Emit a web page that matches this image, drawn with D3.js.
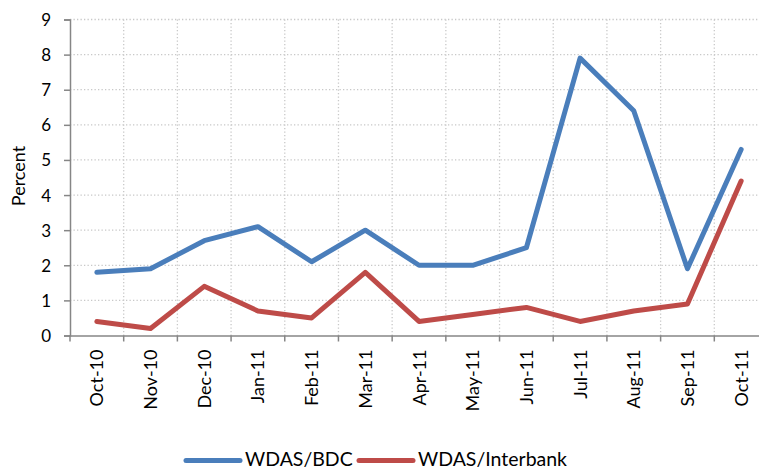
<!DOCTYPE html>
<html><head><meta charset="utf-8">
<script src="https://cdn.jsdelivr.net/npm/d3@7"></script>
<style>body{margin:0;background:#fff}svg{display:block}text{font-family:Lato,"Open Sans",sans-serif;fill:#000}</style>
</head><body>
<svg id="c" width="759" height="469"></svg>
<script>
const categories = ["Oct-10","Nov-10","Dec-10","Jan-11","Feb-11","Mar-11","Apr-11","May-11","Jun-11","Jul-11","Aug-11","Sep-11","Oct-11"];
const bdc = [1.8,1.9,2.7,3.1,2.1,3.0,2.0,2.0,2.5,7.9,6.4,1.9,5.3];
const interbank = [0.4,0.2,1.4,0.7,0.5,1.8,0.4,0.6,0.8,0.4,0.7,0.9,4.4];
const yTicks = [0,1,2,3,4,5,6,7,8,9];
const seriesNames = ["WDAS/BDC","WDAS/Interbank"];
const colors = ["#4a7ebb","#be4b48"];

const svg = d3.select("#c");
const x = d3.scaleBand().domain(categories).range([70, 768]);
const y = d3.scaleLinear().domain([0,9]).range([335.5, 19.5]);

// grid
const g = svg.append("g");
g.selectAll("line.h").data(yTicks.slice(1)).join("line")
  .attr("x1",70).attr("x2",768).attr("y1",d=>y(d)).attr("y2",d=>y(d))
  .attr("stroke","#c8c8c8").attr("stroke-width",1.3).attr("stroke-dasharray","1.3,2.2");
g.selectAll("line.v").data(categories.slice(1)).join("line")
  .attr("x1",d=>x(d)).attr("x2",d=>x(d)).attr("y1",y(9)).attr("y2",y(0))
  .attr("stroke","#c8c8c8").attr("stroke-width",1.3).attr("stroke-dasharray","1.3,2.2");

// axes
const yAxis = svg.append("g").attr("transform","translate(70,0)")
  .call(d3.axisLeft(y).tickValues(yTicks).tickSize(6).tickPadding(13).tickFormat(d3.format("d")));
const xAxis = svg.append("g").attr("transform",`translate(0,${y(0)})`)
  .call(d3.axisBottom(x).tickSize(0).tickPadding(0).tickFormat(""));
// x tick marks at band edges
svg.append("g").selectAll("line").data(categories).join("line")
  .attr("x1",d=>x(d)).attr("x2",d=>x(d)).attr("y1",y(0)).attr("y2",y(0)+6)
  .attr("stroke","#868686").attr("stroke-width",1.5);
[yAxis,xAxis].forEach(a=>{
  a.select(".domain").attr("stroke","#868686").attr("stroke-width",1.5);
  a.selectAll(".tick line").attr("stroke","#868686").attr("stroke-width",1.5);
});
yAxis.selectAll("text").attr("font-size",17).style("font-family","Lato,sans-serif").attr("dy","0.35em");

// x labels
svg.append("g").selectAll("text").data(categories).join("text")
  .attr("transform",d=>`translate(${x(d)+x.bandwidth()/2+6.5},${y(0)+14}) rotate(-90)`)
  .attr("text-anchor","end").attr("font-size",18).text(d=>d);

// y title
svg.append("text").attr("transform","translate(25,176) rotate(-90)")
  .attr("text-anchor","middle").attr("font-size",18).text("Percent");

// lines
const line = d3.line().x((d,i)=>x(categories[i])+x.bandwidth()/2).y(d=>y(d));
[bdc, interbank].forEach((s,k)=>{
  svg.append("path").datum(s).attr("d",line).attr("fill","none")
    .attr("stroke",colors[k]).attr("stroke-width",5).attr("stroke-linejoin","round").attr("stroke-linecap","round");
});

// legend
const leg = [{x:186,tx:245},{x:359,tx:418}];
seriesNames.forEach((n,k)=>{
  svg.append("line").attr("x1",leg[k].x).attr("x2",leg[k].x+54).attr("y1",460.5).attr("y2",460.5)
    .attr("stroke",colors[k]).attr("stroke-width",5).attr("stroke-linecap","round");
  svg.append("text").attr("x",leg[k].tx).attr("y",466).attr("font-size",19.5).text(n);
});
</script>
</body></html>
